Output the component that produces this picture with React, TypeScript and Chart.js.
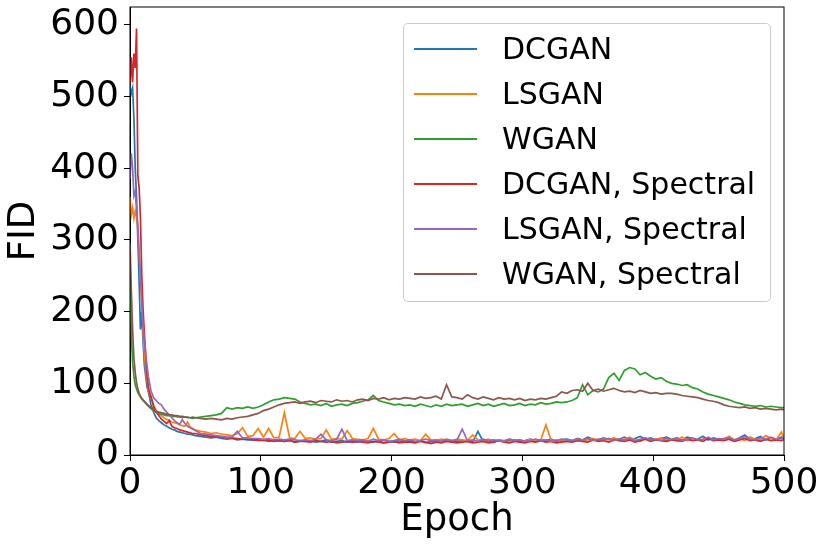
import { useEffect, useRef } from 'react'
import { Chart, registerables } from 'chart.js'

Chart.register(...registerables)

// epochs sampled: every epoch at the start, then sparser
const epochs = [
  0, 1, 2, 3, 4, 5, 6, 7, 8, 9, 10, 11, 12, 13, 14, 15, 16, 17, 18, 19, 20,
  22, 24, 26, 28, 30, 32, 34, 36, 38, 40, 42, 44, 46, 48, 50,
  54, 58, 62, 66, 70, 74, 78, 82, 86, 90,
  94, 98, 102, 106, 110, 114, 118, 122, 126, 130,
  134, 138, 142, 146, 150, 154, 158, 162, 166, 170,
  174, 178, 182, 186, 190, 194, 198, 202, 206, 210,
  214, 218, 222, 226, 230, 234, 238, 242, 246, 250,
  254, 258, 262, 266, 270, 274, 278, 282, 286, 290,
  294, 298, 302, 306, 310, 314, 318, 322, 326, 330,
  334, 338, 342, 346, 350, 354, 358, 362, 366, 370,
  374, 378, 382, 386, 390, 394, 398, 402, 406, 410,
  414, 418, 422, 426, 430, 434, 438, 442, 446, 450,
  454, 458, 462, 466, 470, 474, 478, 482, 486, 490,
  494, 498, 500
]

const dcgan = [
  515, 505, 512, 470, 400, 360, 300, 240, 175, 200, 158, 125, 110, 95, 88, 80, 70, 66, 60, 56, 52,
  48, 45, 42, 40, 38, 36, 35, 33, 32, 31, 30, 29, 29, 28, 27,
  26, 25, 24, 25, 23, 22, 23, 21, 22, 21,
  21, 20, 21, 19, 20, 20, 19, 21, 18, 20,
  19, 20, 18, 19, 21, 18, 19, 20, 18, 19,
  18, 20, 19, 18, 20, 17, 19, 18, 20, 18,
  19, 18, 20, 17, 19, 18, 19, 20, 18, 19,
  20, 19, 18, 33, 19, 20, 18, 21, 19, 20,
  21, 19, 20, 22, 19, 21, 20, 22, 19, 21,
  22, 20, 23, 21, 25, 22, 21, 24, 22, 23,
  22, 25, 21, 23, 26, 22, 24, 21, 23, 25,
  22, 24, 21, 25, 23, 22, 26, 21, 24, 22,
  23, 25, 21, 24, 28, 22, 23, 26, 21, 24,
  22, 25, 23
]

const lsgan = [
  360, 335, 345, 330, 340, 332, 318, 280, 249, 217, 174, 140, 120, 105, 90, 85, 82, 75, 70, 66, 62,
  58, 55, 52, 50, 48, 46, 45, 44, 42, 41, 40, 46, 39, 37, 35,
  33, 32, 30, 31, 29, 28, 27, 30, 38, 26,
  27, 37, 25, 37, 24, 25, 59, 24, 23, 33,
  23, 24, 22, 23, 35, 22, 23, 22, 34, 23,
  22, 21, 23, 37, 22, 21, 23, 30, 21, 23,
  21, 22, 20, 29, 21, 20, 22, 21, 20, 22,
  21, 20, 28, 21, 20, 22, 19, 21, 20, 22,
  20, 21, 19, 22, 20, 21, 42, 20, 21, 19,
  21, 20, 22, 19, 21, 23, 20, 22, 21, 24,
  20, 22, 25, 21, 19, 23, 21, 22, 24, 20,
  22, 21, 25, 20, 23, 21, 22, 24, 20, 23,
  22, 26, 21, 23, 20, 25, 22, 21, 27, 23,
  21, 32, 24
]

const wgan = [
  260, 170, 130, 110, 98, 92, 87, 84, 81, 78, 76, 74, 72, 70, 68, 66, 65, 63, 62, 61, 60,
  58, 57, 56, 55, 55, 54, 54, 53, 53, 52, 53, 52, 52, 51, 52,
  53, 54, 55, 56, 58, 66, 64, 66, 65, 67,
  65, 67, 70, 74, 77, 78, 80, 79, 78, 74,
  72, 70, 71, 69, 72, 68, 70, 71, 69, 72,
  73, 75, 77, 83, 76, 74, 72, 70, 71, 69,
  70, 68, 71, 69, 67, 70, 68, 71, 69, 70,
  71, 68, 70, 72, 69, 71, 68, 70, 72, 69,
  70, 72, 69, 71, 70, 73, 71, 72, 74, 73,
  74, 76, 80, 98, 84, 90, 88, 92, 108, 114,
  104, 118, 122, 120, 112, 115, 110, 106, 108, 103,
  100, 99, 97, 98, 94, 92, 88, 85, 83, 81,
  79, 77, 74, 72, 70, 69, 68, 69, 67, 68,
  67, 66, 66
]

const dcganSpectral = [
  515, 555, 520, 560, 540, 595, 390, 372, 330, 250, 203, 170, 140, 112, 95, 87, 82, 75, 68, 64, 60,
  55, 50, 47, 44, 48, 40, 38, 37, 35, 34, 33, 32, 31, 30, 30,
  28, 27, 26, 26, 25, 24, 24, 23, 22, 22,
  21, 21, 20, 21, 19, 20, 19, 20, 18, 19,
  19, 18, 20, 19, 18, 19, 17, 18, 19, 18,
  19, 18, 17, 19, 18, 17, 18, 19, 17, 18,
  18, 17, 19, 18, 16, 18, 17, 19, 18, 17,
  18, 19, 17, 18, 19, 17, 18, 20, 18, 17,
  19, 18, 17, 19, 18, 20, 18, 19, 17, 18,
  19, 18, 20, 19, 18, 21, 19, 20, 18, 21,
  20, 19, 21, 18, 20, 22, 19, 21, 20, 19,
  21, 20, 19, 22, 20, 21, 19, 23, 20, 21,
  20, 22, 19, 21, 23, 20, 21, 19, 22, 20,
  21, 20, 22
]

const lsganSpectral = [
  385, 421, 400, 362, 368, 342, 320, 280, 250, 212, 179, 160, 140, 125, 110, 100, 90, 85, 80, 78, 76,
  72, 70, 64, 60, 56, 52, 48, 45, 43, 49, 44, 40, 38, 36, 34,
  30, 29, 28, 27, 26, 25, 25, 33, 24, 24,
  23, 23, 22, 23, 21, 22, 21, 22, 21, 20,
  21, 20, 22, 29, 21, 20, 22, 36, 20, 21,
  20, 21, 19, 22, 20, 21, 19, 20, 22, 20,
  21, 19, 20, 22, 20, 21, 19, 22, 20, 21,
  36, 20, 21, 19, 22, 20, 21, 20, 19, 22,
  20, 21, 19, 20, 22, 20, 21, 19, 20, 22,
  21, 20, 22, 21, 23, 20, 22, 21, 23, 20,
  22, 21, 23, 20, 22, 24, 21, 22, 20, 23,
  21, 23, 20, 22, 24, 21, 22, 25, 21, 23,
  22, 24, 21, 23, 26, 22, 21, 24, 22, 25,
  22, 23, 21
]

const wganSpectral = [
  296, 230, 175, 135, 115, 101, 92, 86, 82, 79, 77, 75, 73, 71, 69, 68, 66, 65, 64, 63, 61,
  60, 59, 58, 57, 56, 56, 55, 55, 54, 54, 53, 53, 52, 53, 52,
  51, 50, 51, 50, 49, 51, 50, 52, 53, 54,
  56, 58, 62, 64, 67, 70, 72, 73, 74, 72,
  74, 75, 73, 76, 75, 74, 77, 75, 76, 74,
  77, 78, 76, 79, 78, 80, 77, 79, 78, 80,
  79, 78, 81, 79, 80, 82, 78, 98, 81, 80,
  78, 84, 80, 78, 81, 79, 77, 80, 78, 79,
  77, 79, 76, 78, 77, 79, 78, 80, 82, 88,
  86, 90, 91, 89, 100, 90, 92, 89, 91, 93,
  90, 88, 89, 87, 90, 88, 86, 87, 85, 86,
  86, 85, 83, 82, 81, 80, 78, 76, 75, 73,
  70, 68, 67, 66, 67, 65, 66, 64, 65, 64,
  63, 64, 63
]

const seriesNames = ['DCGAN', 'LSGAN', 'WGAN', 'DCGAN, Spectral', 'LSGAN, Spectral', 'WGAN, Spectral']
const seriesValues = [dcgan, lsgan, wgan, dcganSpectral, lsganSpectral, wganSpectral]
const seriesColors = ['#1f77b4', '#ff7f0e', '#2ca02c', '#d62728', '#9467bd', '#8c564b']

const xTicks = [0, 100, 200, 300, 400, 500]

const FONT = 'DejaVu Sans'

// draws the top and right spines like matplotlib
const framePlugin = {
  id: 'frame',
  afterDraw(chart: Chart) {
    const { ctx, chartArea } = chart
    ctx.save()
    ctx.strokeStyle = '#000'
    ctx.lineWidth = 1
    ctx.strokeRect(chartArea.left, chartArea.top, chartArea.right - chartArea.left, chartArea.bottom - chartArea.top)
    ctx.restore()
  }
}

export default function App() {
  const canvasRef = useRef<HTMLCanvasElement>(null)
  const chartRef = useRef<Chart | null>(null)

  useEffect(() => {
    if (!canvasRef.current) return
    if (chartRef.current) chartRef.current.destroy()

    chartRef.current = new Chart(canvasRef.current, {
      type: 'line',
      data: {
        datasets: seriesNames.map((name, i) => ({
          label: name,
          data: epochs.map((e, j) => ({ x: e, y: seriesValues[i][j] })),
          borderColor: seriesColors[i],
          backgroundColor: seriesColors[i],
          borderWidth: 1.7,
          pointRadius: 0,
          tension: 0,
          order: seriesNames.length - i
        }))
      },
      options: {
        animation: false,
        responsive: true,
        maintainAspectRatio: false,
        layout: { padding: { top: 7, right: 46, left: 0, bottom: 0 } },
        plugins: {
          legend: { display: false },
          tooltip: { enabled: false }
        },
        scales: {
          x: {
            type: 'linear',
            min: 0,
            max: 500,
            afterFit: (scale) => {
              scale.height = 95
              scale.paddingLeft = 0
              scale.paddingRight = 0
            },
            afterBuildTicks: (scale) => { scale.ticks = xTicks.map(v => ({ value: v })) },
            ticks: { color: '#000', font: { family: FONT, size: 36 }, padding: 1, maxRotation: 0 },
            grid: { drawOnChartArea: false, tickLength: 6, tickColor: '#000' },
            border: { color: '#000', width: 1 },
            title: { display: true, text: 'Epoch', color: '#000', font: { family: FONT, size: 37 }, padding: { top: 0, bottom: 7 } }
          },
          y: {
            type: 'linear',
            min: 0,
            max: 625,
            afterFit: (scale) => {
              scale.width = 130
              scale.paddingTop = 0
              scale.paddingBottom = 0
            },
            ticks: { stepSize: 100, includeBounds: false, color: '#000', font: { family: FONT, size: 36 }, padding: 5 },
            grid: { drawOnChartArea: false, tickLength: 6, tickColor: '#000' },
            border: { color: '#000', width: 1 },
            title: { display: true, text: 'FID', color: '#000', font: { family: FONT, size: 37 }, padding: { top: 2, bottom: 0 } }
          }
        }
      },
      plugins: [framePlugin]
    })

    return () => {
      if (chartRef.current) {
        chartRef.current.destroy()
        chartRef.current = null
      }
    }
  }, [])

  return (
    <div style={{ position: 'absolute', left: 0, top: 0, width: 830, height: 550, background: '#fff' }}>
      <canvas ref={canvasRef}></canvas>
      <div
        style={{
          position: 'absolute',
          left: 403,
          top: 23,
          width: 366,
          height: 277,
          border: '1px solid #cccccc',
          borderRadius: 5,
          background: 'rgba(255,255,255,0.8)',
          fontFamily: FONT,
          fontSize: 30,
          color: '#000'
        }}
      >
        {seriesNames.map((name, i) => (
          <div
            key={name}
            style={{
              position: 'absolute',
              left: 0,
              top: 2 + 45 * i,
              height: 45,
              display: 'flex',
              alignItems: 'center',
              whiteSpace: 'nowrap',
              lineHeight: '45px'
            }}
          >
            <div style={{ marginLeft: 10, width: 63, height: 2, background: seriesColors[i] }} />
            <span style={{ marginLeft: 25 }}>{name}</span>
          </div>
        ))}
      </div>
    </div>
  )
}
